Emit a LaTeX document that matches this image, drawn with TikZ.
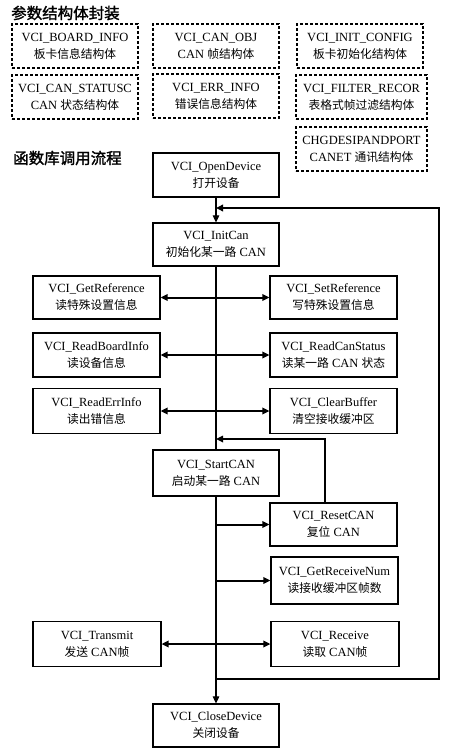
\documentclass[tikz,border=0pt]{standalone}
\usepackage{fontspec}
\setmainfont{Liberation Serif}
\newfontfamily\cjk[Scale=0.94]{Noto Sans CJK SC}
\newfontfamily\cjktitle[FakeBold=1.6]{Noto Sans CJK SC}
\newcommand{\zh}[1]{{\cjk #1}}
\usetikzlibrary{arrows.meta}
\begin{document}
\begin{tikzpicture}[x=1pt,y=-1pt,
  every node/.style={font=\fontsize{12.5}{17}\selectfont, align=center, inner sep=0pt},
  dbox/.style={draw, dashed, dash pattern=on 3pt off 2pt, line width=1.2pt, minimum width=126pt, minimum height=44pt},
  fbox/.style={draw, line width=1.2pt, minimum width=127pt, minimum height=44pt},
  title/.style={font=\cjktitle\fontsize{15.5}{18}\selectfont, anchor=west},
  tip/.style={-{Triangle[length=7pt,width=6.5pt]}},
  dtip/.style={{Triangle[length=7pt,width=6.5pt]}-{Triangle[length=7pt,width=6.5pt]}},
  thin/.style={line width=1.1pt},
  thick2/.style={line width=2pt}
]
\useasboundingbox (0,0) rectangle (450,752);
\fill[white] (0,0) rectangle (450,752);

% titles
\node[title] (t1) at (11,13) {参数结构体封装};
\node[title] (t2) at (13,158) {函数库调用流程};

% dashed structure boxes
\node[dbox] (d1) at (75,46) {VCI\_BOARD\_INFO\\ \zh{板卡信息结构体}};
\node[dbox] (d2) at (216,46) {VCI\_CAN\_OBJ\\ CAN \zh{帧结构体}};
\node[dbox] (d3) at (360,46) {VCI\_INIT\_CONFIG\\ \zh{板卡初始化结构体}};
\node[dbox] (d4) at (75,97) {VCI\_CAN\_STATUSC\\ CAN \zh{状态结构体}};
\node[dbox] (d5) at (216,96) {VCI\_ERR\_INFO\\ \zh{错误信息结构体}};
\node[dbox, minimum width=131pt] (d6) at (361.5,97) {VCI\_FILTER\_RECOR\\ \zh{表格式帧过滤结构体}};
\node[dbox, minimum width=131pt] (d7) at (361.5,149) {CHGDESIPANDPORT\\ CANET \zh{通讯结构体}};

% flow boxes
\node[fbox, minimum width=126pt] (open) at (216,175) {VCI\_OpenDevice\\ \zh{打开设备}};
\node[fbox, minimum width=126pt, minimum height=43pt] (init) at (216,244.5) {VCI\_InitCan\\ \zh{初始化某一路} CAN};
\node[fbox, minimum height=43pt] (getref) at (96.5,297.5) {VCI\_GetReference\\ \zh{读特殊设置信息}};
\node[fbox, minimum height=43pt] (setref) at (333.5,297.5) {VCI\_SetReference\\ \zh{写特殊设置信息}};
\node[fbox] (rboard) at (96.5,355) {VCI\_ReadBoardInfo\\ \zh{读设备信息}};
\node[fbox] (rcan) at (333.5,355) {VCI\_ReadCanStatus\\ \zh{读某一路} CAN \zh{状态}};
\node[fbox, minimum height=45pt] (rerr) at (96.5,411) {VCI\_ReadErrInfo\\ \zh{读出错信息}};
\node[fbox, minimum height=45pt] (clr) at (333.5,411) {VCI\_ClearBuffer\\ \zh{清空接收缓冲区}};
\node[fbox, minimum width=126pt, minimum height=46pt] (start) at (216,473) {VCI\_StartCAN\\ \zh{启动某一路} CAN};
\node[fbox, minimum height=43pt] (reset) at (333.5,524.5) {VCI\_ResetCAN\\ \zh{复位} CAN};
\node[fbox, minimum height=47pt] (grn) at (334.5,580.5) {VCI\_GetReceiveNum\\ \zh{读接收缓冲区帧数}};
\node[fbox, minimum width=128pt, minimum height=45pt] (tx) at (97,644) {VCI\_Transmit\\ \zh{发送} CAN\zh{帧}};
\node[fbox, minimum width=128pt, minimum height=45pt] (rx) at (335,644) {VCI\_Receive\\ \zh{读取} CAN\zh{帧}};
\node[fbox, minimum width=126pt, minimum height=43pt] (close) at (216,725.5) {VCI\_CloseDevice\\ \zh{关闭设备}};

% helper coordinates
\coordinate (fbA) at (325,439);
\coordinate (fbB) at (216,439);
\coordinate (lpA) at (216,679);
\coordinate (lpB) at (439,679);
\coordinate (lpC) at (439,208);
\coordinate (lpD) at (216,208);

% main line
\draw[thin, tip] (open) -- (init);
\draw[thin] (init) -- (start);
\draw[thin, tip] (start) -- (close);

% side double arrows
\draw[thick2, dtip] (getref) -- (setref);
\draw[thick2, dtip] (rboard) -- (rcan);
\draw[thick2, dtip] (rerr) -- (clr);
\draw[thick2, dtip] (tx) -- (rx);

% branches to right
\draw[thick2, tip] (start.south |- reset.west) -- (reset.west);
\draw[thick2, tip] (start.south |- grn.west) -- (grn.west);

% reset feedback
\draw[line width=1.6pt, tip] (reset.north -| fbA) -- (fbA) -- (fbB);

% loop back to InitCan
\draw[thick2, tip] (lpA) -- (lpB) -- (lpC) -- (lpD);
\end{tikzpicture}
\end{document}
